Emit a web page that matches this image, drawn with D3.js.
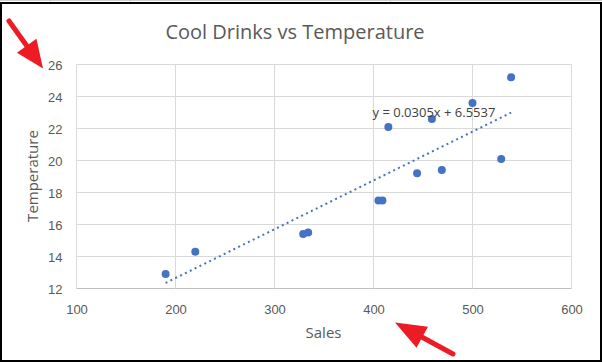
<!DOCTYPE html>
<html lang="en">
<head>
    <meta charset="UTF-8">
    <title>Cool Drinks vs Temperature</title>
    <script src="https://d3js.org/d3.v7.min.js"></script>
    <style>
        body { margin: 0; background: #fff; }
        svg { display: block; font-family: "Open Sans", "Noto Sans", sans-serif; }
        .tick-label { font-size: 13px; fill: #595959; }
        .axis-title { font-size: 15px; fill: #595959; }
    </style>
</head>
<body>
    <div id="chart"></div>
    <script>
        // Data
        const sales = [190, 220, 329, 334, 405, 409, 415, 444, 459, 469, 500, 529, 539];
        const temperature = [12.9, 14.3, 15.4, 15.5, 17.5, 17.5, 22.1, 19.2, 22.6, 19.4, 23.6, 20.1, 25.2];
        const xTicks = [100, 200, 300, 400, 500, 600];
        const yTicks = [12, 14, 16, 18, 20, 22, 24, 26];
        const trendSlope = 0.0305;
        const trendIntercept = 6.5537;

        const width = 602;
        const height = 362;
        const margin = {top: 64.5, right: 30.5, bottom: 73.5, left: 76.5};

        const svg = d3.select("#chart")
            .append("svg")
            .attr("width", width)
            .attr("height", height);

        // spreadsheet cells peeking above the chart, and the chart frame
        svg.append("line").attr("x1", 0).attr("x2", width).attr("y1", 0.5).attr("y2", 0.5)
            .attr("stroke", "#d0d0d0");
        [50, 130, 390].forEach(x => {
            svg.append("line").attr("x1", x + 0.5).attr("x2", x + 0.5).attr("y1", 0).attr("y2", 3)
                .attr("stroke", "#d0d0d0");
        });
        svg.append("rect")
            .attr("x", 1).attr("y", 3)
            .attr("width", width - 2).attr("height", height - 4)
            .attr("fill", "#fff")
            .attr("stroke", "#000")
            .attr("stroke-width", 2);

        const xScale = d3.scaleLinear()
            .domain([100, 600])
            .range([margin.left, width - margin.right]);

        const yScale = d3.scaleLinear()
            .domain([12, 26])
            .range([height - margin.bottom, margin.top]);

        // Gridlines
        svg.append("g")
            .selectAll("line")
            .data(yTicks)
            .join("line")
            .attr("x1", margin.left)
            .attr("x2", width - margin.right)
            .attr("y1", d => yScale(d))
            .attr("y2", d => yScale(d))
            .attr("stroke", d => d === 12 ? "#bfbfbf" : "#d9d9d9")
            .attr("stroke-width", 1);

        svg.append("g")
            .selectAll("line")
            .data(xTicks)
            .join("line")
            .attr("x1", d => xScale(d))
            .attr("x2", d => xScale(d))
            .attr("y1", margin.top)
            .attr("y2", height - margin.bottom)
            .attr("stroke", "#d9d9d9")
            .attr("stroke-width", 1);

        // Axes (labels only, Excel style)
        const xAxis = d3.axisBottom(xScale).tickValues(xTicks).tickSize(0).tickPadding(0);
        const gx = svg.append("g")
            .attr("transform", `translate(0,${height - margin.bottom})`)
            .call(xAxis);
        gx.select(".domain").remove();
        gx.selectAll("text")
            .attr("class", "tick-label")
            .attr("dy", null)
            .attr("y", 25)
            .attr("fill", null);

        const yAxis = d3.axisLeft(yScale).tickValues(yTicks).tickSize(0).tickPadding(14);
        const gy = svg.append("g")
            .attr("transform", `translate(${margin.left},0)`)
            .call(yAxis);
        gy.select(".domain").remove();
        gy.selectAll("text")
            .attr("class", "tick-label")
            .attr("dy", "0.36em")
            .attr("fill", null);

        // Title and axis titles
        svg.append("text")
            .attr("x", 295)
            .attr("y", 39)
            .attr("text-anchor", "middle")
            .style("font-size", "20px")
            .style("fill", "#595959")
            .text("Cool Drinks vs Temperature");

        svg.append("text")
            .attr("class", "axis-title")
            .attr("x", 323.5)
            .attr("y", 338)
            .attr("text-anchor", "middle")
            .text("Sales");

        svg.append("text")
            .attr("class", "axis-title")
            .attr("transform", "translate(38,176) rotate(-90)")
            .attr("text-anchor", "middle")
            .text("Temperature");

        // Linear trendline
        const xMin = d3.min(sales), xMax = d3.max(sales);
        svg.append("line")
            .attr("x1", xScale(xMin))
            .attr("y1", yScale(trendSlope * xMin + trendIntercept))
            .attr("x2", xScale(xMax))
            .attr("y2", yScale(trendSlope * xMax + trendIntercept))
            .attr("stroke", "#4472c4")
            .attr("stroke-width", 2)
            .attr("stroke-dasharray", "2 3.4");

        // Points
        svg.append("g")
            .selectAll("circle")
            .data(sales.map((s, i) => ({x: s, y: temperature[i]})))
            .join("circle")
            .attr("cx", d => xScale(d.x))
            .attr("cy", d => yScale(d.y))
            .attr("r", 4)
            .attr("fill", "#4472c4");

        // Trendline equation
        svg.append("text")
            .attr("x", 434)
            .attr("y", 117)
            .attr("text-anchor", "middle")
            .style("font-size", "13px")
            .style("fill", "#404040")
            .text(`y = ${trendSlope}x + ${trendIntercept}`);

        // Red annotation arrows
        function arrow(x1, y1, x2, y2, headLen, headWidth) {
            const ang = Math.atan2(y2 - y1, x2 - x1);
            const bx = x2 - headLen * Math.cos(ang), by = y2 - headLen * Math.sin(ang);
            const px = -Math.sin(ang) * headWidth / 2, py = Math.cos(ang) * headWidth / 2;
            svg.append("line")
                .attr("x1", x1).attr("y1", y1).attr("x2", bx).attr("y2", by)
                .attr("stroke", "#ed1c24")
                .attr("stroke-width", 5)
                .attr("stroke-linecap", "round");
            svg.append("path")
                .attr("d", `M${x2},${y2}L${bx + px},${by + py}L${bx - px},${by - py}Z`)
                .attr("fill", "#ed1c24");
        }
        arrow(9, 21, 43, 68.5, 28, 24);
        arrow(453, 354, 395, 322.5, 31, 24);
    </script>
</body>
</html>
